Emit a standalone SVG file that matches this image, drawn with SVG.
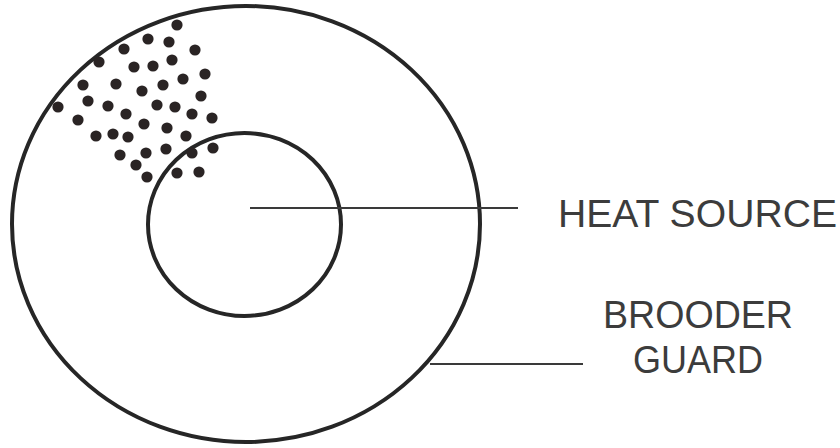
<svg xmlns="http://www.w3.org/2000/svg" width="840" height="448" viewBox="0 0 840 448">
<style>
.ring{fill:none;stroke:#262626;stroke-width:4}
.lead{fill:none;stroke:#3a3a3a;stroke-width:2.2}
.dot{fill:#2a2424}
.lbl{font-family:"Liberation Sans",Arial,sans-serif;font-size:38px;fill:#3c3c3c}
</style>
<rect width="840" height="448" fill="#ffffff"/>
<g id="brooder-guard">
<ellipse class="ring" cx="246" cy="224" rx="234" ry="218"/>
</g>
<g id="heat-source">
<ellipse class="ring" cx="244.5" cy="224.5" rx="96.5" ry="91.5"/>
</g>
<g id="chicks">
<circle class="dot" cx="177" cy="25" r="5.6"/>
<circle class="dot" cx="148" cy="39" r="5.6"/>
<circle class="dot" cx="169" cy="42" r="5.6"/>
<circle class="dot" cx="195" cy="50" r="5.6"/>
<circle class="dot" cx="124" cy="49" r="5.6"/>
<circle class="dot" cx="99" cy="62" r="5.6"/>
<circle class="dot" cx="172" cy="60" r="5.6"/>
<circle class="dot" cx="134" cy="67" r="5.6"/>
<circle class="dot" cx="153" cy="66" r="5.6"/>
<circle class="dot" cx="205" cy="74" r="5.6"/>
<circle class="dot" cx="183" cy="79" r="5.6"/>
<circle class="dot" cx="83" cy="85" r="5.6"/>
<circle class="dot" cx="116" cy="84" r="5.6"/>
<circle class="dot" cx="163" cy="85" r="5.6"/>
<circle class="dot" cx="142" cy="91" r="5.6"/>
<circle class="dot" cx="201" cy="96" r="5.6"/>
<circle class="dot" cx="88" cy="101" r="5.6"/>
<circle class="dot" cx="108" cy="106" r="5.6"/>
<circle class="dot" cx="157" cy="105" r="5.6"/>
<circle class="dot" cx="175" cy="107" r="5.6"/>
<circle class="dot" cx="58" cy="107" r="5.6"/>
<circle class="dot" cx="126" cy="114" r="5.6"/>
<circle class="dot" cx="192" cy="114" r="5.6"/>
<circle class="dot" cx="78" cy="120" r="5.6"/>
<circle class="dot" cx="212" cy="118" r="5.6"/>
<circle class="dot" cx="144" cy="124" r="5.6"/>
<circle class="dot" cx="167" cy="128" r="5.6"/>
<circle class="dot" cx="96" cy="136" r="5.6"/>
<circle class="dot" cx="113" cy="134" r="5.6"/>
<circle class="dot" cx="128" cy="137" r="5.6"/>
<circle class="dot" cx="186" cy="136" r="5.6"/>
<circle class="dot" cx="120" cy="155" r="5.6"/>
<circle class="dot" cx="146" cy="153" r="5.6"/>
<circle class="dot" cx="166" cy="149" r="5.6"/>
<circle class="dot" cx="213" cy="148" r="5.6"/>
<circle class="dot" cx="192" cy="153" r="5.6"/>
<circle class="dot" cx="136" cy="165" r="5.6"/>
<circle class="dot" cx="177" cy="173" r="5.6"/>
<circle class="dot" cx="199" cy="172" r="5.6"/>
<circle class="dot" cx="147" cy="177" r="5.6"/>
</g>
<g id="connectors">
<line class="lead" x1="250" y1="208" x2="518" y2="208"/>
<line class="lead" x1="430" y1="364" x2="583" y2="364"/>
</g>
<g id="label-heat-source">
<text class="lbl" x="558" y="227" textLength="279" lengthAdjust="spacingAndGlyphs">HEAT SOURCE</text>
</g>
<g id="label-brooder-guard">
<text class="lbl" x="603" y="328" textLength="190" lengthAdjust="spacingAndGlyphs">BROODER</text>
<text class="lbl" x="633" y="373" textLength="130" lengthAdjust="spacingAndGlyphs">GUARD</text>
</g>
</svg>
